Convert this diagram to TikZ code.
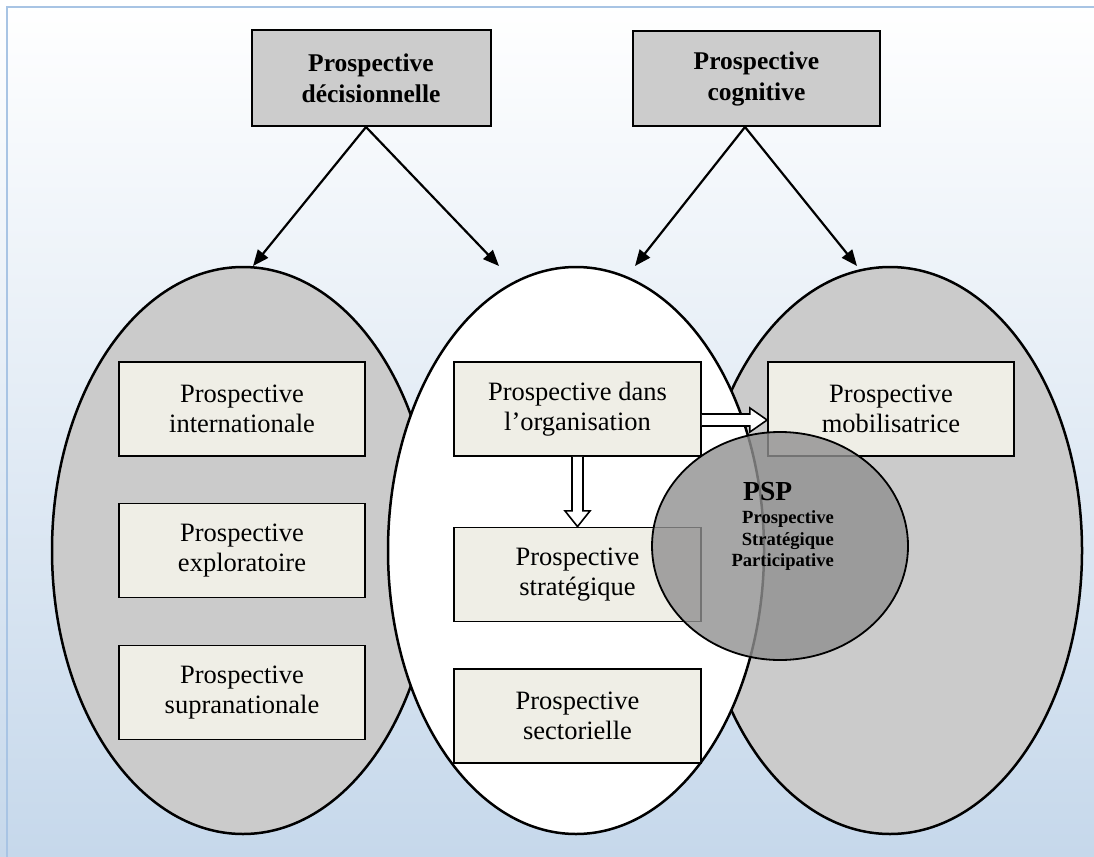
\documentclass[tikz,border=0pt]{standalone}
\usepackage{fontspec}
\setmainfont{Liberation Serif}
\usetikzlibrary{arrows.meta,calc,shapes.geometric}

\definecolor{bgbottom}{RGB}{198,216,235}
\definecolor{framebl}{RGB}{168,196,228}
\definecolor{ellgray}{RGB}{203,203,203}
\definecolor{boxfill}{RGB}{239,238,230}
\definecolor{topgray}{RGB}{204,204,204}
\definecolor{pspgray}{RGB}{144,144,144}

\begin{document}
\begin{tikzpicture}[x=1pt,y=-1pt,
  topbox/.style={draw=black, line width=2pt, fill=topgray, align=center,
    font=\fontsize{25.5}{31}\selectfont\bfseries, inner sep=0pt},
  innerbox/.style={draw=black, line width=1.8pt, fill=boxfill, align=center,
    font=\fontsize{26.5}{30.5}\selectfont, minimum width=246pt,
    minimum height=94pt, inner sep=0pt},
  ell/.style={ellipse, draw=black, line width=2.5pt, inner sep=0pt},
  link/.style={line width=2.2pt, -{Triangle[length=16pt,width=13pt]}},
  hollow/.style={draw=black, line width=1.6pt, fill=white, line join=miter},
  pspsub/.style={anchor=base east, inner sep=0pt,
    font=\fontsize{18.6}{21}\selectfont\bfseries},
]
\useasboundingbox (0,0) rectangle (1094,856);
\clip (0,0) rectangle (1094,856);

% background
\shade[top color=white, bottom color=bgbottom] (0,0) rectangle (1094,856);
\draw[framebl, line width=2.5pt] (7,870) -- (7,7) -- (1110,7);

% large ellipses
\node[ell, fill=ellgray, minimum width=382pt, minimum height=567pt] (E1) at (243,550.5) {};
\node[ell, fill=ellgray, minimum width=384pt, minimum height=567pt] (E3) at (890,550.5) {};
\node[ell, fill=white, minimum width=376pt, minimum height=567pt] (E2) at (576,550.5) {};

% top boxes
\node[topbox, minimum width=239pt, minimum height=96pt] (dec) at (371,78) {Prospective\\décisionnelle};
\node[topbox, minimum width=247pt, minimum height=95pt] (cog) at (756.5,78.5) {Prospective\\cognitive};

% arrow tips
\coordinate (t1) at (253,266);
\coordinate (t2) at (499,266);
\coordinate (t3) at (635,266);
\coordinate (t4) at (857,266);
\draw[link] ($(dec.south)+(-5,0)$) -- (t1);
\draw[link] ($(dec.south)+(-5,0)$) -- (t2);
\draw[link] ($(cog.south)+(-11.5,0)$) -- (t3);
\draw[link] ($(cog.south)+(-11.5,0)$) -- (t4);

% inner boxes
\node[innerbox] (intl) at (242,409) {Prospective\\internationale};
\node[innerbox] (expl) at (242,550.5) {Prospective\\exploratoire};
\node[innerbox] (supra) at (242,692.5) {Prospective\\supranationale};
\node[innerbox, minimum width=247pt] (org) at (577.5,409) {Prospective dans\\l’organisation};
\node[innerbox, minimum width=247pt] (strat) at (577.5,574.5) {Prospective\\stratégique};
\node[innerbox, minimum width=247pt] (sect) at (577.5,716) {Prospective\\sectorielle};
\node[innerbox] (mob) at (891,409) {Prospective\\mobilisatrice};

% hollow arrows
\draw[hollow] ($(org.south)+(-5.5,0)$) -- ($(org.south)+(-5.5,54)$)
  -- ($(org.south)+(-12.5,54)$) -- (strat.north)
  -- ($(org.south)+(12.5,54)$) -- ($(org.south)+(5.5,54)$)
  -- ($(org.south)+(5.5,0)$);
\draw[hollow] ($(org.east)+(0,5)$) -- ($(org.east)+(48,5)$)
  -- ($(org.east)+(48,-1)$) -- ($(mob.west)+(0,11)$)
  -- ($(org.east)+(48,23)$) -- ($(org.east)+(48,17)$)
  -- ($(org.east)+(0,17)$);

% PSP
\node[ell, line width=1.8pt, fill=pspgray, fill opacity=0.8,
  minimum width=256pt, minimum height=228pt] (psp) at (780,546) {};
\node[anchor=base west, inner sep=0pt, font=\fontsize{27.5}{30}\selectfont\bfseries] (psptitle) at (743,500) {PSP};
\node[pspsub] (psp1) at (834,523) {Prospective};
\node[pspsub] (psp2) at (834,545) {Stratégique};
\node[pspsub] (psp3) at (834,566) {Participative};
\end{tikzpicture}
\end{document}
